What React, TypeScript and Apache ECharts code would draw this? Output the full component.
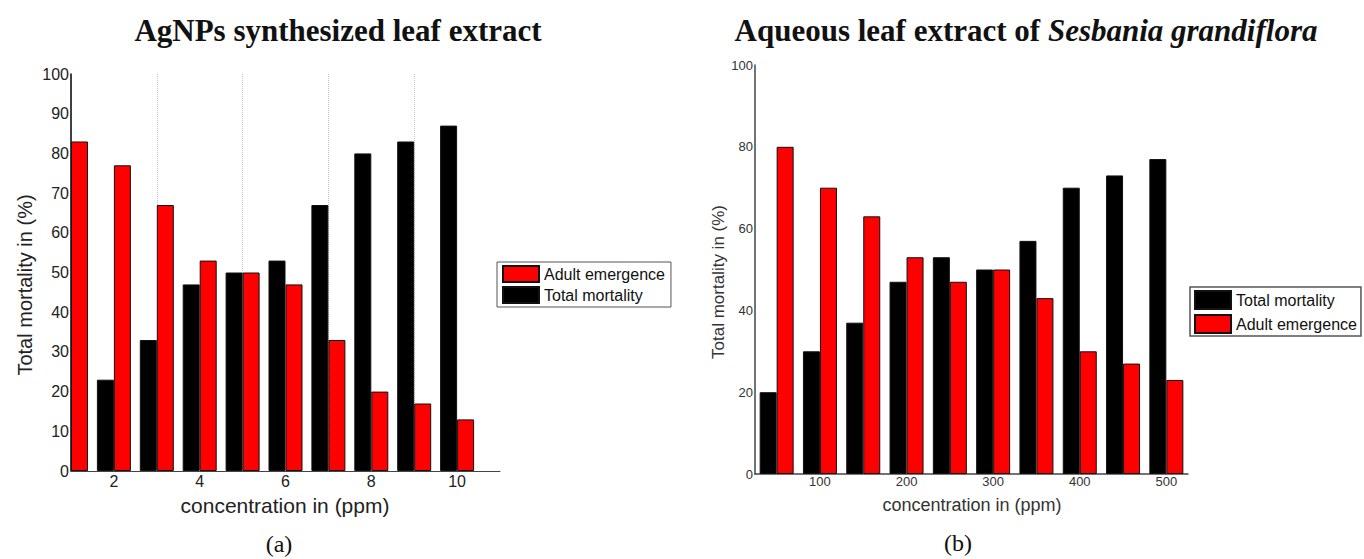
import React, { useEffect, useRef } from "react";
import * as echarts from "echarts";

// Panel (a): AgNPs synthesized leaf extract, concentration 1..10 ppm
const concA = [1, 2, 3, 4, 5, 6, 7, 8, 9, 10];
const adultA = [83, 77, 67, 53, 50, 47, 33, 20, 17, 13];
// first total-mortality bar falls left of the axis in the reference (not visible)
const totalA = [null, 23, 33, 47, 50, 53, 67, 80, 83, 87];

// Panel (b): Aqueous leaf extract, concentration 50..500 ppm
const concB = [50, 100, 150, 200, 250, 300, 350, 400, 450, 500];
const totalB = [20, 30, 37, 47, 53, 50, 57, 70, 73, 77];
const adultB = [80, 70, 63, 53, 47, 50, 43, 30, 27, 23];

const titleA = "AgNPs synthesized leaf extract";
const titleB1 = "Aqueous leaf extract of ";
const titleB2 = "Sesbania grandiflora";
const yName = "Total mortality in (%)";
const xName = "concentration in (ppm)";
const NAME_TOTAL = "Total mortality";
const NAME_ADULT = "Adult emergence";

const SANS = "'Liberation Sans', Arial, sans-serif";
const SERIF = "'Liberation Serif', 'Times New Roman', serif";

export default function App() {
  const ref = useRef<HTMLDivElement>(null);
  useEffect(() => {
    if (!ref.current) return;
    const chart = echarts.init(ref.current, null, { renderer: "svg" });
    const pair = (xs: number[], ys: (number | null)[]) =>
      xs.map((x, i) => (ys[i] === null ? [x, "-"] : [x, ys[i]]));
    const barStyle = (c: string) => ({ color: c, borderColor: "#111", borderWidth: 1 });
    chart.setOption({
      animation: false,
      backgroundColor: "#fff",
      grid: [
        { left: 71, top: 74, width: 429, height: 397 },
        { left: 755, top: 65, width: 433, height: 409 },
      ],
      xAxis: [
        {
          type: "value", gridIndex: 0, min: 1, max: 11, interval: 1,
          axisLine: { lineStyle: { color: "#444", width: 1 } },
          axisTick: { show: false }, splitLine: { show: false },
          axisLabel: {
            margin: 2, fontFamily: SANS, fontSize: 16, color: "#222",
            formatter: (v: number) => (v % 2 === 0 ? String(v) : ""),
          },
        },
        {
          type: "value", gridIndex: 0, min: 1, max: 11, interval: 2, position: "top",
          axisLine: { show: false }, axisTick: { show: false }, axisLabel: { show: false },
          splitLine: { show: true, showMinLine: false, showMaxLine: false, lineStyle: { color: "#c4c4c4", type: "dotted", width: 1 } },
        },
        {
          type: "value", gridIndex: 1, min: 25, max: 525, interval: 25,
          axisLine: { lineStyle: { color: "#444", width: 1.5 } },
          axisTick: { show: false }, splitLine: { show: false },
          axisLabel: {
            margin: 1, fontFamily: SANS, fontSize: 13, color: "#333",
            formatter: (v: number) => (v % 100 === 0 ? String(v) : ""),
          },
        },
      ],
      yAxis: [
        {
          type: "value", gridIndex: 0, min: 0, max: 100, interval: 10,
          axisLine: { show: true, lineStyle: { color: "#000", width: 1.5 } },
          axisTick: { show: false }, splitLine: { show: false },
          axisLabel: { margin: 2, fontFamily: SANS, fontSize: 16, color: "#222" },
        },
        {
          type: "value", gridIndex: 1, min: 0, max: 100, interval: 20,
          axisLine: { show: true, lineStyle: { color: "#444", width: 1.5 } },
          axisTick: { show: false }, splitLine: { show: false },
          axisLabel: { margin: 2, fontFamily: SANS, fontSize: 13, color: "#333" },
        },
      ],
      legend: [
        {
          data: [NAME_ADULT, NAME_TOTAL], orient: "vertical", left: 497, top: 262,
          itemWidth: 36, itemHeight: 16, itemGap: 3, padding: [3, 6, 3, 5],
          borderColor: "#555", borderWidth: 1, selectedMode: false, icon: "rect",
          textStyle: { fontFamily: SANS, fontSize: 16, color: "#111" },
        },
        {
          data: [NAME_TOTAL, NAME_ADULT], orient: "vertical", left: 1190, top: 287,
          itemWidth: 36, itemHeight: 18, itemGap: 4, padding: [3, 4, 2, 4],
          borderColor: "#555", borderWidth: 1.5, selectedMode: false, icon: "rect",
          textStyle: { fontFamily: SANS, fontSize: 16, color: "#111" },
        },
      ],
      series: [
        {
          type: "bar", name: NAME_TOTAL, xAxisIndex: 0, yAxisIndex: 0, clip: true,
          data: pair(concA, totalA), barWidth: 17, barGap: "0%", itemStyle: barStyle("#000"),
        },
        {
          type: "bar", name: NAME_ADULT, xAxisIndex: 0, yAxisIndex: 0, clip: true,
          data: pair(concA, adultA), barWidth: 17, barGap: "0%", itemStyle: barStyle("#ff0000"),
        },
        {
          type: "bar", name: NAME_TOTAL, xAxisIndex: 2, yAxisIndex: 1,
          data: pair(concB, totalB), barWidth: 17, barGap: "0%", itemStyle: barStyle("#000"),
        },
        {
          type: "bar", name: NAME_ADULT, xAxisIndex: 2, yAxisIndex: 1,
          data: pair(concB, adultB), barWidth: 17, barGap: "0%", itemStyle: barStyle("#ff0000"),
        },
      ],
      graphic: [
        {
          type: "text", x: 338, y: 30,
          style: { text: titleA, fontFamily: SERIF, fontWeight: "bold", fontSize: 31, fill: "#111", align: "center", verticalAlign: "middle" },
        },
        {
          type: "text", x: 1026, y: 30,
          style: {
            text: "{a|" + titleB1 + "}{b|" + titleB2 + "}",
            align: "center", verticalAlign: "middle",
            rich: {
              a: { fontFamily: SERIF, fontWeight: "bold", fontSize: 31, fill: "#111" },
              b: { fontFamily: SERIF, fontWeight: "bold", fontStyle: "italic", fontSize: 31, fill: "#111" },
            },
          },
        },
        {
          type: "text", x: 25, y: 285, rotation: Math.PI / 2,
          style: { text: yName, fontFamily: SANS, fontSize: 20, fill: "#222", align: "center", verticalAlign: "middle" },
        },
        {
          type: "text", x: 285, y: 505,
          style: { text: xName, fontFamily: SANS, fontSize: 21, fill: "#222", align: "center", verticalAlign: "middle" },
        },
        {
          type: "text", x: 718, y: 282, rotation: Math.PI / 2,
          style: { text: yName, fontFamily: SANS, fontSize: 17, fill: "#333", align: "center", verticalAlign: "middle" },
        },
        {
          type: "text", x: 972, y: 505,
          style: { text: xName, fontFamily: SANS, fontSize: 18, fill: "#333", align: "center", verticalAlign: "middle" },
        },
        {
          type: "text", x: 279, y: 544,
          style: { text: "(a)", fontFamily: SERIF, fontSize: 24, fill: "#111", align: "center", verticalAlign: "middle" },
        },
        {
          type: "text", x: 958, y: 543,
          style: { text: "(b)", fontFamily: SERIF, fontSize: 24, fill: "#111", align: "center", verticalAlign: "middle" },
        },
      ],
    });
    return () => chart.dispose();
  }, []);
  return (
    <div
      ref={ref}
      style={{ position: "fixed", left: 0, top: 0, width: 1364, height: 559, background: "#fff" }}
    />
  );
}
